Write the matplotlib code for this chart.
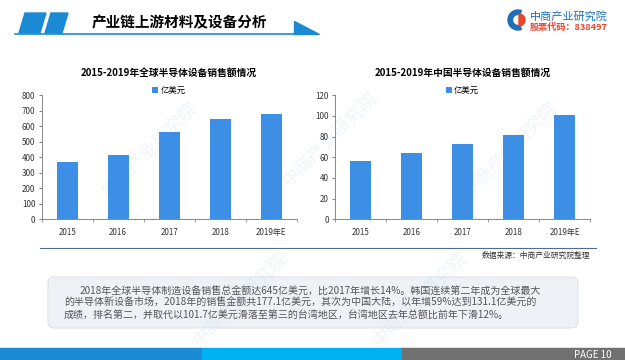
import numpy as np
import matplotlib.pyplot as plt
from matplotlib.patches import Polygon, Rectangle, FancyBboxPatch, Wedge

plt.rcParams['font.family'] = ['Noto Sans CJK SC', 'DejaVu Sans']

years = ['2015', '2016', '2017', '2018', '2019年E']
global_sales = [370, 413, 566, 650, 678]
china_sales = [56, 64, 73, 82, 101]
series_name = '亿美元'
title_left = '2015-2019年全球半导体设备销售额情况'
title_right = '2015-2019年中国半导体设备销售额情况'
header = '产业链上游材料及设备分析'
source = '数据来源：中商产业研究院整理'
body = ['2018年全球半导体制造设备销售总金额达645亿美元，比2017年增长14%。韩国连续第二年成为全球最大',
        '的半导体新设备市场，2018年的销售金额共177.1亿美元，其次为中国大陆，以年增59%达到131.1亿美元的',
        '成绩，排名第二，并取代以101.7亿美元滑落至第三的台湾地区，台湾地区去年总额比前年下滑12%。']

W, H = 625, 360
fig = plt.figure(figsize=(W / 100, H / 100), dpi=100)

# background layer in pixel coordinates
bg = fig.add_axes([0, 0, 1, 1], zorder=0)
bg.set_xlim(0, W)
bg.set_ylim(H, 0)
bg.axis('off')

blue = '#1a8ad4'
# faint watermarks
for (x, y) in [(150, 150), (330, 140), (510, 150), (240, 300), (420, 300)]:
    bg.text(x, y, '中商产业研究院', fontsize=13, color='#c9dbee', alpha=0.3,
            rotation=45, ha='center', va='center')

# header
bg.add_patch(Polygon([(25, 13), (46, 13), (40, 33), (19, 33)], color=blue))
bg.add_patch(Polygon([(51, 13), (68, 13), (62, 33), (45, 33)], color=blue))
bg.plot([15, 300], [33.5, 33.5], color=blue, lw=1.2)
bg.add_patch(Polygon([(294, 21), (294, 34), (319, 34)], color=blue))
bg.text(92, 22, header, fontsize=10.5, fontweight='bold', color='black', va='center')

# logo
bg.add_patch(Wedge((518, 20), 10, 70, 290, width=4.5, color='#1f6fb8'))
bg.add_patch(Wedge((519, 20), 6, -90, 90, color='#e8452c'))
bg.text(530, 16, '中商产业研究院', fontsize=8, color='#1f6fb8', va='center')
bg.text(530, 27, '股票代码：838497', fontsize=6.6, color='#e8452c', va='center', fontweight='bold')

# source line
bg.plot([40, 596], [248, 248], color='#4a6f8f', lw=0.8)
bg.text(590, 256, source, fontsize=5.6, color='#333333', ha='right', va='center')

# text box
bg.add_patch(FancyBboxPatch((48, 277), 530, 51, boxstyle='round,pad=0,rounding_size=6',
                            facecolor='#eef2f7', edgecolor='#d5dbe3', lw=0.6))
for i, line in enumerate(body):
    bg.text(80 if i == 0 else 64, 292 + i * 11.3, line, fontsize=7.2, color='#555555', va='center')

# bottom bar
bg.add_patch(Rectangle((0, 348), 202, 12, color='#1a8ad4'))
bg.add_patch(Rectangle((202, 348), 200, 12, color='#00b0f0'))
bg.add_patch(Rectangle((402, 348), 223, 12, color='#717171'))
bg.text(612, 354.5, 'PAGE 10', fontsize=7, color='white', ha='right', va='center')

bar_color = '#3d8fe6'


def bar_chart(rect, values, ymax, step, title):
    ax = fig.add_axes(rect, zorder=2)
    ax.patch.set_alpha(0)
    x = np.arange(len(years))
    ax.bar(x, values, width=0.41, color=bar_color, label=series_name)
    ax.set_xlim(-0.5, len(years) - 0.5)
    ax.set_ylim(0, ymax)
    ax.set_yticks(np.arange(0, ymax + 1, step))
    ax.set_xticks(x)
    ax.set_xticklabels(years)
    ax.set_xticks(np.arange(-0.5, len(years), 1), minor=True)
    ax.tick_params(axis='x', which='major', length=0, labelsize=5.8, colors='#333333', pad=6)
    ax.tick_params(axis='x', which='minor', length=2.5, color='#888888', direction='out')
    ax.tick_params(axis='y', length=2.5, color='#888888', labelsize=5.8, labelcolor='#333333', pad=2)
    for s in ['top', 'right']:
        ax.spines[s].set_visible(False)
    for s in ['left', 'bottom']:
        ax.spines[s].set_color('#888888')
        ax.spines[s].set_linewidth(0.7)
    ax.set_title(title, fontsize=7, fontweight='bold', pad=14)
    ax.legend(loc='lower center', bbox_to_anchor=(0.5, 0.97), frameon=False, fontsize=6,
              handlelength=0.7, handleheight=0.7, handletextpad=0.3, borderpad=0)
    return ax


bar_chart([41.7 / W, 1 - 219.3 / H, 255 / W, 124 / H], global_sales, 800, 100, title_left)
bar_chart([335 / W, 1 - 219.3 / H, 255 / W, 124 / H], china_sales, 120, 20, title_right)

fig.savefig('out.png', dpi=100)
